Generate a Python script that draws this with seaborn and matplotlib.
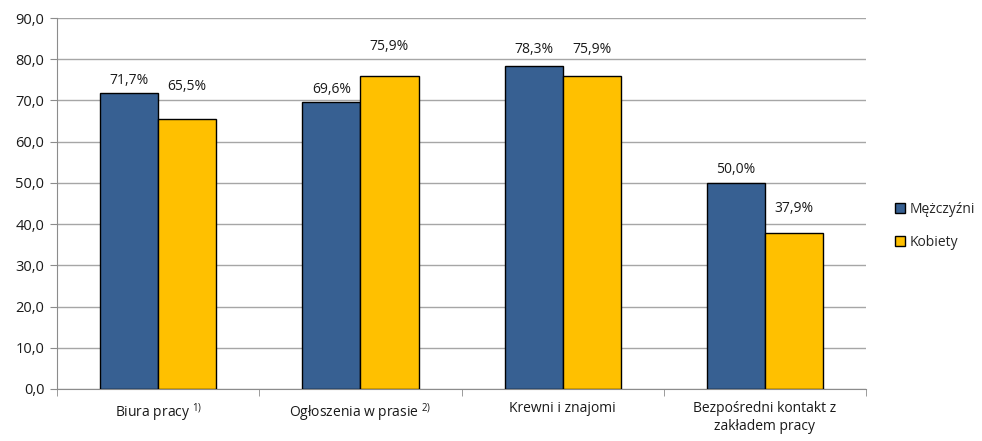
import pandas as pd
import matplotlib
matplotlib.use("Agg")
import matplotlib.pyplot as plt
import seaborn as sns

# data
categories = ["Biura pracy $^{\\mathregular{1)}}$",
              "Ogłoszenia w prasie $^{\\mathregular{2)}}$",
              "Krewni i znajomi",
              "Bezpośredni kontakt z\nzakładem pracy"]
groups = ["Mężczyźni", "Kobiety"]
men = [71.7, 69.6, 78.3, 50.0]
women = [65.5, 75.9, 75.9, 37.9]

# label lift above bar top, in points (men, women)
lift_men = [1, 1, 4, 1]
lift_women = [15, 13, 11, 9]

df = pd.DataFrame({
    "kat": categories * 2,
    "grupa": [groups[0]] * 4 + [groups[1]] * 4,
    "val": men + women,
})

sns.set_style("white")
plt.rcParams['font.family'] = ['Open Sans', 'DejaVu Sans']
plt.rcParams['mathtext.fontset'] = 'custom'
plt.rcParams['mathtext.rm'] = 'Open Sans'

fig = plt.figure(figsize=(9.82, 4.41), dpi=100)
ax = fig.add_axes([0.058, 0.118, 0.824, 0.841])

palette = {"Mężczyźni": "#376092", "Kobiety": "#FFC000"}
sns.barplot(data=df, x="kat", y="val", hue="grupa", palette=palette,
            width=0.575, edgecolor="black", linewidth=1, saturation=1,
            ax=ax, zorder=3)

fs = 10
ax.set_ylim(0, 90)
ax.set_xlim(-0.5, 3.5)
ax.set_yticks(range(0, 91, 10))
ax.set_yticklabels([f"{v:.1f}".replace(".", ",") for v in range(0, 91, 10)],
                   fontsize=10.5, color="#1a1a1a")
ax.yaxis.grid(True, color="#A6A6A6", linewidth=1, zorder=0)
ax.set_axisbelow(True)
ax.set_xlabel("")
ax.set_ylabel("")
ax.tick_params(axis="x", which="major", length=0, labelsize=fs, pad=9,
               labelcolor="#1a1a1a")
ax.set_xticks([-0.5, 0.5, 1.5, 2.5, 3.5], minor=True)
ax.tick_params(axis="x", which="minor", length=5, color="#8C8C8C", direction="out", bottom=True)
ax.tick_params(axis="y", length=5, color="#8C8C8C", direction="out", left=True, pad=4)

for s in ["top", "right"]:
    ax.spines[s].set_visible(False)
for s in ["left", "bottom"]:
    ax.spines[s].set_color("#8C8C8C")

# value labels
for cont, lifts in zip(ax.containers, [lift_men, lift_women]):
    for bar, lift in zip(cont, lifts):
        h = bar.get_height()
        ax.annotate(f"{h:.1f}%".replace(".", ","),
                    (bar.get_x() + bar.get_width() / 2, h),
                    xytext=(0, lift + 3), textcoords="offset points",
                    ha="center", va="bottom", fontsize=fs, color="#1a1a1a")

ax.legend(loc="center left", bbox_to_anchor=(1.02, 0.44), frameon=False,
          fontsize=fs, handlelength=0.7, handleheight=0.7, labelspacing=1.3,
          handletextpad=0.4)

plt.savefig("out.png", dpi=100)
